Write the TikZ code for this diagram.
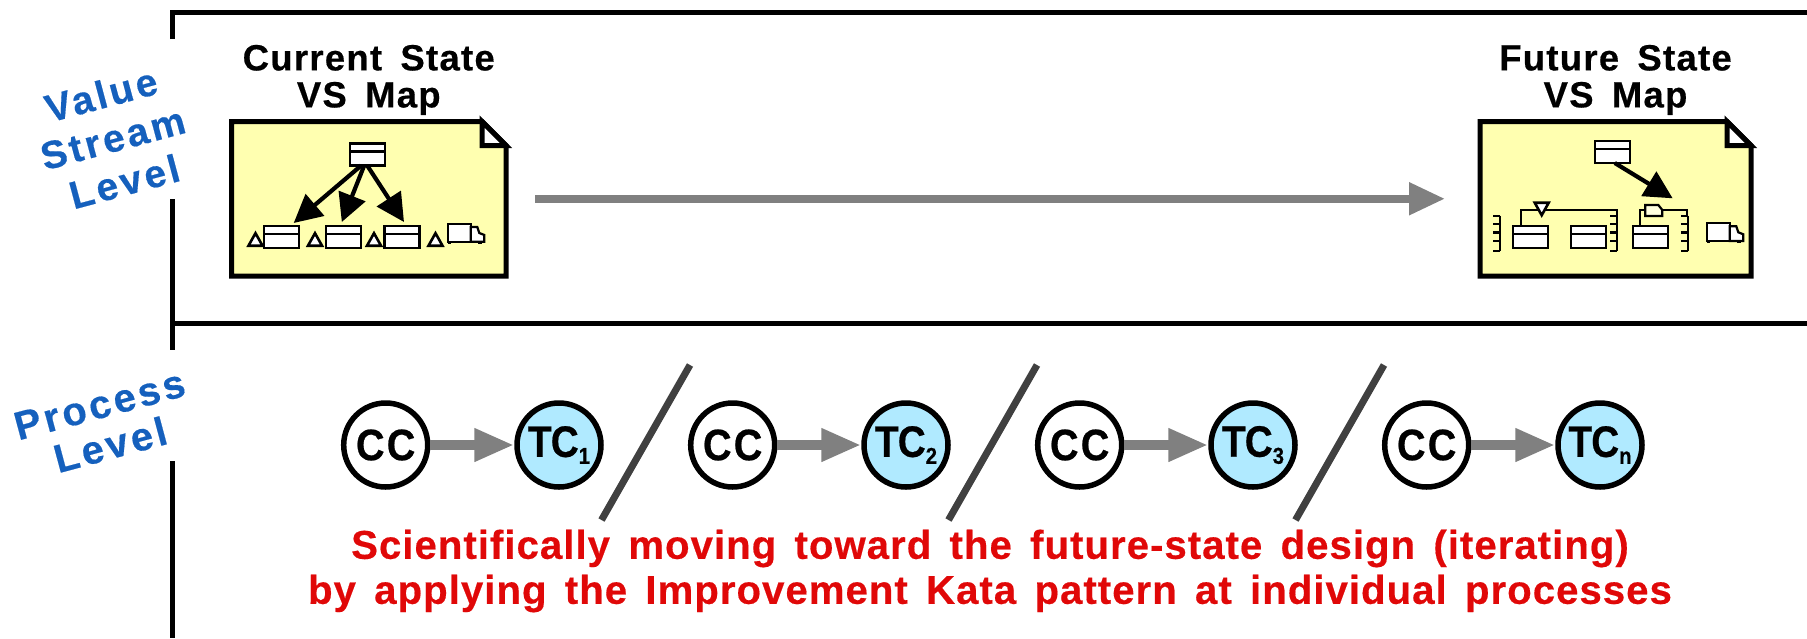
\documentclass[tikz,border=0pt]{standalone}
\usepackage{fontspec}
\setmainfont{Liberation Sans}
\newfontfamily\titlefont[BoldFeatures={FakeBold=0.4},LetterSpace=3.5,WordSpace=1.6]{Liberation Sans}
\newfontfamily\katafont[BoldFeatures={FakeBold=0.4},LetterSpace=2.5,WordSpace=1.5]{Liberation Sans}
\newfontfamily\levelfont[BoldFeatures={FakeBold=0.4},LetterSpace=8,WordSpace=1.6]{Liberation Sans}
\newfontfamily\ccfont[BoldFeatures={FakeBold=0.5,FakeStretch=0.9},LetterSpace=5]{Liberation Sans}
\newfontfamily\tcfont[BoldFeatures={FakeBold=0.5,FakeStretch=0.88},LetterSpace=-2]{Liberation Sans}
\usetikzlibrary{arrows.meta}
\usetikzlibrary{positioning}
\definecolor{mapyellow}{HTML}{FFFFB0}
\definecolor{tcblue}{HTML}{B0EAFF}
\definecolor{levelblue}{HTML}{1560BD}
\definecolor{katared}{HTML}{E00808}
\tikzset{
  mapnode/.style={rectangle, draw=none, inner sep=0pt, outer sep=0pt},
  mapline/.style={line width=5pt, line join=miter, fill=mapyellow},
  foldline/.style={line width=5pt, line join=miter, fill=white},
  frameline/.style={line width=5pt},
  maptitle/.style={align=center, font=\titlefont\bfseries\fontsize{36.5}{37}\selectfont},
  leveltext/.style={align=center, rotate=15, text=levelblue, font=\levelfont\bfseries\fontsize{39}{45}\selectfont},
  katatext/.style={align=center, text=katared, font=\katafont\bfseries\fontsize{40.2}{45}\selectfont},
  procbox/.style={rectangle, draw, fill=white, line width=2.2pt, inner sep=0pt, outer sep=0pt,
    minimum width=35pt, minimum height=22pt,
    path picture={\draw[line width=2.2pt] ([yshift=-8pt]path picture bounding box.north west)
      -- ([yshift=-8pt]path picture bounding box.north east);}},
  thinline/.style={line width=2.2pt},
  pull/.style={line width=4.2pt, -{Triangle[length=28pt,width=28pt]}},
  bigflow/.style={draw=gray, line width=8pt, -{Triangle[length=36pt,width=31pt]}},
  flow/.style={draw=gray, line width=10pt, -{Triangle[length=40pt,width=31pt]}},
  slash/.style={draw=black!75, line width=7pt},
  cyclenode/.style={circle, draw, line width=5.5pt, inner sep=0pt, minimum size=84pt},
  cc/.style={cyclenode, fill=white, font=\ccfont\bfseries\fontsize{44}{44}\selectfont},
  tc/.style={cyclenode, fill=tcblue, font=\tcfont\bfseries\fontsize{44}{44}\selectfont},
  pics/invtri/.style={code={\draw[line width=2.6pt, fill=white, line join=miter] (-7,0) -- (7,0) -- (0,-12.5) -- cycle;}},
  pics/truck/.style={code={
    \draw[thinline, fill=white] (0,0) rectangle (22.4,17.7);
    \draw[thinline, fill=white] (22.4,3) -- (29,3) -- (31,9) -- (36,11) -- (36,17.7) -- (22.4,17.7) -- cycle;
    \fill (0,16.5) rectangle (3,20);
    \fill (30,16.5) rectangle (34,20);}},
  pics/comb/.style={code={
    \draw[thinline] (0,0) -- (0,35);
    \foreach \t in {0,8.4,16.7,25.3,35} \draw[thinline] (0,\t) -- (-7,\t);}}
}
\newcommand{\mapdoc}[1]{
  \draw[mapline] (#1.north west) -- ([xshift=-24pt]#1.north east) -- ([yshift=-24pt]#1.north east)
    -- (#1.south east) -- (#1.south west) -- cycle;
  \draw[foldline] ([xshift=-24pt]#1.north east) -- ++(0,24) -- ([yshift=-24pt]#1.north east) -- cycle;
}
\newcommand{\tcsub}[1]{\raisebox{-7pt}{\fontsize{23}{23}\selectfont #1}}

\begin{document}
\begin{tikzpicture}[x=1pt,y=-1pt]
  \useasboundingbox (0,0) rectangle (1807,638);

  \draw[frameline] (172.5,39) -- (172.5,12) -- (1807,12);
  \draw[frameline] (172.5,199) -- (172.5,350);
  \draw[frameline] (172.5,461) -- (172.5,638);
  \draw[frameline] (172.5,323.7) -- (1807,323.7);

  \node [leveltext] (vslevel) at (112.7,138) {Value\\Stream\\Level};
  \node [leveltext, font=\levelfont\bfseries\fontsize{40}{42}\selectfont] (plevel) at (105,425) {Process\\Level};

  \node [mapnode, minimum width=274.5pt, minimum height=154.5pt] (curmap) at (368.75,198.75) {};
  \node [mapnode, minimum width=271pt, minimum height=154.5pt] (futmap) at (1615.5,198.75) {};
  \node [maptitle, above=3pt of curmap] (curtitle) {Current State\\VS Map};
  \node [maptitle, above=3pt of futmap] (futtitle) {Future State\\VS Map};
  \mapdoc{curmap}
  \mapdoc{futmap}
  \draw[bigflow, shorten <=29pt, shorten >=35pt] (curmap) -- (futmap);

  \node [procbox] (ctop) at (367.2,154.5) {};
  \node [procbox] (cb1) at (281.7,237) {};
  \node [procbox] (cb2) at (343.3,237) {};
  \node [procbox] (cb3) at (402,237) {};
  \draw[pull] ([xshift=-6pt]ctop.south) -- ([xshift=12pt,yshift=3pt]cb1.north);
  \draw[pull] ([xshift=-3pt]ctop.south) -- ([xshift=-1.5pt,yshift=4pt]cb2.north);
  \draw[pull] ([xshift=0pt]ctop.south) -- ([xshift=2pt,yshift=4pt]cb3.north);
  \foreach \x in {255.5,315,374,435.5}
    \pic at (\x,245.7) {invtri};
  \pic at (448.3,224) {truck};

  \node [procbox] (ftop) at (1612.8,152) {};
  \node [procbox] (fb1) at (1530.3,237) {};
  \node [procbox] (fb2) at (1588.8,237) {};
  \node [procbox] (fb3) at (1650.3,237) {};
  \coordinate (ftip) at (1672.7,198.3);
  \coordinate (fc2) at (1616.7,210);
  \coordinate (fc3) at (1686.7,210);
  \draw[pull] ([xshift=2pt]ftop.south) -- (ftip);
  \draw[thinline] ([xshift=-9.6pt]fb1.north) |- (fc2) -- ++(0,6);
  \draw[thinline] ([xshift=-10.3pt]fb3.north) |- (fc3) -- ++(0,6);
  \pic at (1500,215.7) {comb};
  \pic at (1616.7,215.7) {comb};
  \pic at (1688.3,215.7) {comb};
  \pic [yscale=-1] at (1541.7,202.7) {invtri};
  \draw[thinline, fill=mapyellow!40!white] (1645.3,205) -- (1658.3,205) -- (1662.3,210) -- (1662.3,216) -- (1645.3,216) -- cycle;
  \pic at (1707.3,223.3) {truck};

  \foreach \i/\s in {0/1,1/2,2/3,3/n} {
    \node [cc] (cc\s) at ({385.7+347*\i},445) {CC};
    \node [tc] (tc\s) at ({559+347*\i},445) {TC\tcsub{\s}};
    \draw[flow] (cc\s) -- (tc\s);
  }
  \foreach \i in {0,1,2}
    \draw[slash, xshift={347*\i}] (601.5,520) -- (690,365);

  \node [katatext] (kata) at (990,571) {Scientifically moving toward the future-state design (iterating)\\by applying the Improvement Kata pattern at individual processes};
\end{tikzpicture}
\end{document}
